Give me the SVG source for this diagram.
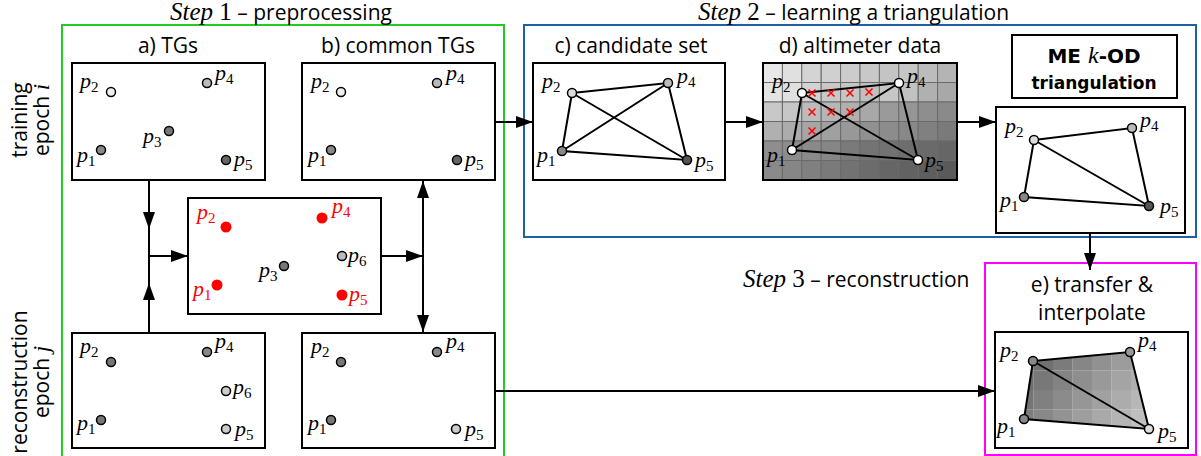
<svg xmlns="http://www.w3.org/2000/svg" width="1201" height="456" viewBox="0 0 1201 456">
<style>
.box{fill:#fff;stroke:#000;stroke-width:2}
.ln{stroke:#000;stroke-width:2;fill:none}
.pt{stroke:#000;stroke-width:1.5}
.rp{fill:#ff0000;stroke:none}
.lbl{font-family:"Liberation Serif",serif;font-style:italic;font-size:22px;fill:#000}
.red{fill:#ff0000}
.sub{font-style:normal;font-size:15px}
.hd{font-family:"Open Sans",sans-serif;font-size:21px;fill:#000}
.mid{text-anchor:middle}
.it{font-family:"Liberation Serif",serif;font-style:italic;font-size:25px}
.rm{font-family:"Liberation Serif",serif;font-style:normal;font-size:25px}
.bd{font-family:"DejaVu Sans",sans-serif;font-weight:bold;font-size:17px;fill:#000;text-anchor:middle}
.bd1{font-size:20px}
.mk{font-family:"Liberation Serif",serif;font-style:italic;font-weight:normal;font-size:24px}
.gc{stroke:#6a6a6a;stroke-width:1}
.xm{stroke:#ff0000;stroke-width:1.5}
</style>
<defs>
<marker id="ah" markerUnits="userSpaceOnUse" markerWidth="18" markerHeight="12" refX="17" refY="6" orient="auto">
<path d="M0,0 L17,6 L0,12 Z" fill="#000"/>
</marker>
<clipPath id="eclip"><polygon points="1033,361 1130,352 1149,429 1024,419"/></clipPath>
</defs>

<!-- step frames -->
<g id="frames">
<rect x="62" y="25" width="442" height="440" fill="none" stroke="#22cc22" stroke-width="2"/>
<rect x="524" y="25" width="672" height="212" fill="none" stroke="#1f5fa8" stroke-width="2"/>
<rect x="985" y="263" width="211" height="192" fill="none" stroke="#ff00ff" stroke-width="2"/>
</g>

<g id="titles">
<text x="170" y="20" class="hd"><tspan class="it">Step</tspan><tspan class="rm"> 1</tspan> – preprocessing</text>
<text x="698" y="20" class="hd"><tspan class="it">Step</tspan><tspan class="rm"> 2</tspan> – learning a triangulation</text>
<text x="743" y="287" class="hd"><tspan class="it">Step</tspan><tspan class="rm"> 3</tspan> – reconstruction</text>
<text transform="translate(27,120) rotate(-90)" class="hd mid">training</text>
<text transform="translate(49,120) rotate(-90)" class="hd mid">epoch <tspan font-family="Liberation Serif, serif" font-style="italic" font-size="23">i</tspan></text>
<text transform="translate(27,382) rotate(-90)" class="hd mid">reconstruction</text>
<text transform="translate(49,382) rotate(-90)" class="hd mid">epoch <tspan font-family="Liberation Serif, serif" font-style="italic" font-size="23">j</tspan></text>
<text x="168" y="53" class="hd mid">a) TGs</text>
<text x="398" y="53" class="hd mid">b) common TGs</text>
<text x="631" y="53" class="hd mid">c) candidate set</text>
<text x="860" y="53" class="hd mid">d) altimeter data</text>
<text x="1092" y="292" class="hd mid">e) transfer &amp;</text>
<text x="1092" y="320" class="hd mid">interpolate</text>
</g>

<!-- connectors -->
<g id="connectors">
<path class="ln" d="M149,180 V229" marker-end="url(#ah)"/>
<path class="ln" d="M149,229 V256"/>
<path class="ln" d="M149,333 V283" marker-end="url(#ah)"/>
<path class="ln" d="M149,283 V256"/>
<path class="ln" d="M149,256 H188" marker-end="url(#ah)"/>
<path class="ln" d="M381,256 H423" marker-end="url(#ah)"/>
<path class="ln" d="M423,256 V181" marker-end="url(#ah)"/>
<path class="ln" d="M423,256 V332" marker-end="url(#ah)"/>
<path class="ln" d="M495,122 H533" marker-end="url(#ah)"/>
<path class="ln" d="M725,122 H763" marker-end="url(#ah)"/>
<path class="ln" d="M957,122 H996" marker-end="url(#ah)"/>
<path class="ln" d="M1090,233 V270" marker-end="url(#ah)"/>
<path class="ln" d="M495,391 H995" marker-end="url(#ah)"/>
</g>

<!-- a) training TGs -->
<g id="node-a-train">
<rect class="box" x="72" y="63" width="193" height="117"/>
<circle class="pt" cx="111" cy="92" r="4.5" fill="#eeeeee"/>
<circle class="pt" cx="207" cy="83" r="4.5" fill="#bbbbbb"/>
<circle class="pt" cx="169" cy="131" r="4.5" fill="#777777"/>
<circle class="pt" cx="101" cy="150" r="4.5" fill="#888888"/>
<circle class="pt" cx="226" cy="160" r="4.5" fill="#666666"/>
<text class="lbl" x="80" y="88">p<tspan class="sub" dy="4">2</tspan></text>
<text class="lbl" x="215" y="80">p<tspan class="sub" dy="4">4</tspan></text>
<text class="lbl" x="143" y="143">p<tspan class="sub" dy="4">3</tspan></text>
<text class="lbl" x="77" y="162">p<tspan class="sub" dy="4">1</tspan></text>
<text class="lbl" x="234" y="166">p<tspan class="sub" dy="4">5</tspan></text>
</g>

<!-- b) common training TGs -->
<g id="node-b-train">
<rect class="box" x="302" y="63" width="193" height="117"/>
<circle class="pt" cx="341" cy="92" r="4.5" fill="#eeeeee"/>
<circle class="pt" cx="437" cy="83" r="4.5" fill="#bbbbbb"/>
<circle class="pt" cx="331" cy="150" r="4.5" fill="#888888"/>
<circle class="pt" cx="457" cy="160" r="4.5" fill="#666666"/>
<text class="lbl" x="311" y="88">p<tspan class="sub" dy="4">2</tspan></text>
<text class="lbl" x="446" y="80">p<tspan class="sub" dy="4">4</tspan></text>
<text class="lbl" x="308" y="162">p<tspan class="sub" dy="4">1</tspan></text>
<text class="lbl" x="465" y="166">p<tspan class="sub" dy="4">5</tspan></text>
</g>

<!-- middle matching -->
<g id="node-match">
<rect class="box" x="188" y="198" width="193" height="116"/>
<circle class="rp" cx="226" cy="227" r="5.5"/>
<circle class="rp" cx="322" cy="218" r="5.5"/>
<circle class="rp" cx="217" cy="285" r="5.5"/>
<circle class="rp" cx="342" cy="295" r="5.5"/>
<circle class="pt" cx="342" cy="256" r="4.5" fill="#bbbbbb"/>
<circle class="pt" cx="284" cy="266" r="4.5" fill="#777777"/>
<text class="lbl red" x="197" y="219">p<tspan class="sub" dy="4">2</tspan></text>
<text class="lbl red" x="332" y="213">p<tspan class="sub" dy="4">4</tspan></text>
<text class="lbl" x="348" y="262">p<tspan class="sub" dy="4">6</tspan></text>
<text class="lbl" x="259" y="277">p<tspan class="sub" dy="4">3</tspan></text>
<text class="lbl red" x="193" y="296">p<tspan class="sub" dy="4">1</tspan></text>
<text class="lbl red" x="349" y="301">p<tspan class="sub" dy="4">5</tspan></text>
</g>

<!-- a) reconstruction TGs -->
<g id="node-a-recon">
<rect class="box" x="72" y="333" width="193" height="115"/>
<circle class="pt" cx="111" cy="362" r="4.5" fill="#777777"/>
<circle class="pt" cx="207" cy="352" r="4.5" fill="#888888"/>
<circle class="pt" cx="226" cy="391" r="4.5" fill="#cccccc"/>
<circle class="pt" cx="101" cy="420" r="4.5" fill="#777777"/>
<circle class="pt" cx="226" cy="429" r="4.5" fill="#cccccc"/>
<text class="lbl" x="80" y="353">p<tspan class="sub" dy="4">2</tspan></text>
<text class="lbl" x="215" y="348">p<tspan class="sub" dy="4">4</tspan></text>
<text class="lbl" x="233" y="394">p<tspan class="sub" dy="4">6</tspan></text>
<text class="lbl" x="77" y="430">p<tspan class="sub" dy="4">1</tspan></text>
<text class="lbl" x="235" y="436">p<tspan class="sub" dy="4">5</tspan></text>
</g>

<!-- b) common reconstruction TGs -->
<g id="node-b-recon">
<rect class="box" x="302" y="333" width="193" height="115"/>
<circle class="pt" cx="341" cy="362" r="4.5" fill="#777777"/>
<circle class="pt" cx="437" cy="352" r="4.5" fill="#888888"/>
<circle class="pt" cx="331" cy="420" r="4.5" fill="#777777"/>
<circle class="pt" cx="456" cy="429" r="4.5" fill="#cccccc"/>
<text class="lbl" x="311" y="353">p<tspan class="sub" dy="4">2</tspan></text>
<text class="lbl" x="446" y="348">p<tspan class="sub" dy="4">4</tspan></text>
<text class="lbl" x="308" y="430">p<tspan class="sub" dy="4">1</tspan></text>
<text class="lbl" x="465" y="436">p<tspan class="sub" dy="4">5</tspan></text>
</g>

<!-- c) candidate set -->
<g id="node-c">
<rect class="box" x="533" y="63" width="192" height="117"/>
<path class="ln" d="M572,93 L668,83 L687,160 L562,151 Z M572,93 L687,160 M562,151 L668,83"/>
<circle class="pt" cx="572" cy="93" r="4.5" fill="#dddddd"/>
<circle class="pt" cx="668" cy="83" r="4.5" fill="#bbbbbb"/>
<circle class="pt" cx="562" cy="151" r="4.5" fill="#888888"/>
<circle class="pt" cx="687" cy="160" r="4.5" fill="#555555"/>
<text class="lbl" x="542" y="88">p<tspan class="sub" dy="4">2</tspan></text>
<text class="lbl" x="677" y="83">p<tspan class="sub" dy="4">4</tspan></text>
<text class="lbl" x="537" y="162">p<tspan class="sub" dy="4">1</tspan></text>
<text class="lbl" x="695" y="167">p<tspan class="sub" dy="4">5</tspan></text>
</g>

<!-- d) altimeter data -->
<g id="node-d">
<g class="gc">
<rect x="763" y="63" width="19.4" height="19.5" fill="#e8e8e8"/><rect x="782.4" y="63" width="19.4" height="19.5" fill="#e0e0e0"/><rect x="801.8" y="63" width="19.4" height="19.5" fill="#d4d4d4"/><rect x="821.2" y="63" width="19.4" height="19.5" fill="#d0d0d0"/><rect x="840.6" y="63" width="19.4" height="19.5" fill="#cccccc"/><rect x="860" y="63" width="19.4" height="19.5" fill="#c8c8c8"/><rect x="879.4" y="63" width="19.4" height="19.5" fill="#c4c4c4"/><rect x="898.8" y="63" width="19.4" height="19.5" fill="#c6c6c6"/><rect x="918.2" y="63" width="19.4" height="19.5" fill="#bcbcbc"/><rect x="937.6" y="63" width="19.4" height="19.5" fill="#b4b4b4"/>
<rect x="763" y="82.5" width="19.4" height="19.5" fill="#e4e4e4"/><rect x="782.4" y="82.5" width="19.4" height="19.5" fill="#e0e0e0"/><rect x="801.8" y="82.5" width="19.4" height="19.5" fill="#d2d2d2"/><rect x="821.2" y="82.5" width="19.4" height="19.5" fill="#c8c8c8"/><rect x="840.6" y="82.5" width="19.4" height="19.5" fill="#c6c6c6"/><rect x="860" y="82.5" width="19.4" height="19.5" fill="#c0c0c0"/><rect x="879.4" y="82.5" width="19.4" height="19.5" fill="#c6c6c6"/><rect x="898.8" y="82.5" width="19.4" height="19.5" fill="#c2c2c2"/><rect x="918.2" y="82.5" width="19.4" height="19.5" fill="#b0b0b0"/><rect x="937.6" y="82.5" width="19.4" height="19.5" fill="#a8a8a8"/>
<rect x="763" y="102" width="19.4" height="19.5" fill="#c8c8c8"/><rect x="782.4" y="102" width="19.4" height="19.5" fill="#c6c6c6"/><rect x="801.8" y="102" width="19.4" height="19.5" fill="#bcbcbc"/><rect x="821.2" y="102" width="19.4" height="19.5" fill="#b6b6b6"/><rect x="840.6" y="102" width="19.4" height="19.5" fill="#b0b0b0"/><rect x="860" y="102" width="19.4" height="19.5" fill="#a8a8a8"/><rect x="879.4" y="102" width="19.4" height="19.5" fill="#9a9a9a"/><rect x="898.8" y="102" width="19.4" height="19.5" fill="#969696"/><rect x="918.2" y="102" width="19.4" height="19.5" fill="#8e8e8e"/><rect x="937.6" y="102" width="19.4" height="19.5" fill="#8a8a8a"/>
<rect x="763" y="121.5" width="19.4" height="19.5" fill="#b0b0b0"/><rect x="782.4" y="121.5" width="19.4" height="19.5" fill="#acacac"/><rect x="801.8" y="121.5" width="19.4" height="19.5" fill="#a6a6a6"/><rect x="821.2" y="121.5" width="19.4" height="19.5" fill="#a0a0a0"/><rect x="840.6" y="121.5" width="19.4" height="19.5" fill="#989898"/><rect x="860" y="121.5" width="19.4" height="19.5" fill="#909090"/><rect x="879.4" y="121.5" width="19.4" height="19.5" fill="#8c8c8c"/><rect x="898.8" y="121.5" width="19.4" height="19.5" fill="#888888"/><rect x="918.2" y="121.5" width="19.4" height="19.5" fill="#808080"/><rect x="937.6" y="121.5" width="19.4" height="19.5" fill="#7a7a7a"/>
<rect x="763" y="141" width="19.4" height="19.5" fill="#8e8e8e"/><rect x="782.4" y="141" width="19.4" height="19.5" fill="#8c8c8c"/><rect x="801.8" y="141" width="19.4" height="19.5" fill="#8a8a8a"/><rect x="821.2" y="141" width="19.4" height="19.5" fill="#868686"/><rect x="840.6" y="141" width="19.4" height="19.5" fill="#7a7a7a"/><rect x="860" y="141" width="19.4" height="19.5" fill="#747474"/><rect x="879.4" y="141" width="19.4" height="19.5" fill="#727272"/><rect x="898.8" y="141" width="19.4" height="19.5" fill="#6e6e6e"/><rect x="918.2" y="141" width="19.4" height="19.5" fill="#6a6a6a"/><rect x="937.6" y="141" width="19.4" height="19.5" fill="#666666"/>
<rect x="763" y="160.5" width="19.4" height="19.5" fill="#8a8a8a"/><rect x="782.4" y="160.5" width="19.4" height="19.5" fill="#868686"/><rect x="801.8" y="160.5" width="19.4" height="19.5" fill="#808080"/><rect x="821.2" y="160.5" width="19.4" height="19.5" fill="#7a7a7a"/><rect x="840.6" y="160.5" width="19.4" height="19.5" fill="#727272"/><rect x="860" y="160.5" width="19.4" height="19.5" fill="#6c6c6c"/><rect x="879.4" y="160.5" width="19.4" height="19.5" fill="#666666"/><rect x="898.8" y="160.5" width="19.4" height="19.5" fill="#626262"/><rect x="918.2" y="160.5" width="19.4" height="19.5" fill="#5e5e5e"/><rect x="937.6" y="160.5" width="19.4" height="19.5" fill="#5a5a5a"/>
</g>
<rect x="763" y="63" width="194" height="117" fill="none" stroke="#000" stroke-width="2"/>
<path class="ln" d="M802,93 L899,83 L918,160 L792,150 Z M802,93 L918,160 M792,150 L899,83"/>
<g class="xm">
<path d="M808.5,89.5 l7,7 m0,-7 l-7,7"/><path d="M827.5,89.5 l7,7 m0,-7 l-7,7"/><path d="M846.5,89.5 l7,7 m0,-7 l-7,7"/><path d="M865.5,88.5 l7,7 m0,-7 l-7,7"/>
<path d="M808.5,108.5 l7,7 m0,-7 l-7,7"/><path d="M827.5,108.5 l7,7 m0,-7 l-7,7"/><path d="M846.5,108.5 l7,7 m0,-7 l-7,7"/>
<path d="M808.5,127.5 l7,7 m0,-7 l-7,7"/>
</g>
<circle class="pt" cx="802" cy="93" r="4.5" fill="#ffffff"/>
<circle class="pt" cx="899" cy="83" r="4.5" fill="#ffffff"/>
<circle class="pt" cx="792" cy="150" r="4.5" fill="#ffffff"/>
<circle class="pt" cx="918" cy="160" r="4.5" fill="#ffffff"/>
<text class="lbl" x="772" y="88">p<tspan class="sub" dy="4">2</tspan></text>
<text class="lbl" x="907" y="83">p<tspan class="sub" dy="4">4</tspan></text>
<text class="lbl" x="767" y="162">p<tspan class="sub" dy="4">1</tspan></text>
<text class="lbl" x="925" y="167">p<tspan class="sub" dy="4">5</tspan></text>
</g>

<!-- ME k-OD label -->
<g id="node-mekod">
<rect class="box" x="1012" y="35" width="165" height="63"/>
<text class="bd bd1" x="1094" y="63">ME <tspan class="mk">k</tspan>-OD</text>
<text class="bd" x="1094" y="89">triangulation</text>
</g>

<!-- triangulation result -->
<g id="node-tri">
<rect class="box" x="996" y="107" width="189" height="126"/>
<path class="ln" d="M1034,140 L1132,128 L1149,206 L1024,197 Z M1034,140 L1149,206"/>
<circle class="pt" cx="1034" cy="140" r="4.5" fill="#dddddd"/>
<circle class="pt" cx="1132" cy="128" r="4.5" fill="#bbbbbb"/>
<circle class="pt" cx="1024" cy="197" r="4.5" fill="#888888"/>
<circle class="pt" cx="1149" cy="206" r="4.5" fill="#555555"/>
<text class="lbl" x="1005" y="133">p<tspan class="sub" dy="4">2</tspan></text>
<text class="lbl" x="1140" y="127">p<tspan class="sub" dy="4">4</tspan></text>
<text class="lbl" x="1000" y="207">p<tspan class="sub" dy="4">1</tspan></text>
<text class="lbl" x="1160" y="213">p<tspan class="sub" dy="4">5</tspan></text>
</g>

<!-- e) transfer & interpolate -->
<g id="node-e">
<rect class="box" x="995" y="332" width="193" height="116"/>
<g clip-path="url(#eclip)">
<rect x="1014" y="351" width="19.6" height="19.6" fill="#656565"/><rect x="1033.5" y="351" width="19.6" height="19.6" fill="#707070"/><rect x="1053" y="351" width="19.6" height="19.6" fill="#7b7b7b"/><rect x="1072.5" y="351" width="19.6" height="19.6" fill="#868686"/><rect x="1092" y="351" width="19.6" height="19.6" fill="#919191"/><rect x="1111.5" y="351" width="19.6" height="19.6" fill="#9c9c9c"/><rect x="1131" y="351" width="19.6" height="19.6" fill="#a7a7a7"/>
<rect x="1014" y="370.5" width="19.6" height="19.6" fill="#6d6d6d"/><rect x="1033.5" y="370.5" width="19.6" height="19.6" fill="#787878"/><rect x="1053" y="370.5" width="19.6" height="19.6" fill="#838383"/><rect x="1072.5" y="370.5" width="19.6" height="19.6" fill="#8e8e8e"/><rect x="1092" y="370.5" width="19.6" height="19.6" fill="#999999"/><rect x="1111.5" y="370.5" width="19.6" height="19.6" fill="#a4a4a4"/><rect x="1131" y="370.5" width="19.6" height="19.6" fill="#afafaf"/>
<rect x="1014" y="390" width="19.6" height="19.6" fill="#757575"/><rect x="1033.5" y="390" width="19.6" height="19.6" fill="#808080"/><rect x="1053" y="390" width="19.6" height="19.6" fill="#8b8b8b"/><rect x="1072.5" y="390" width="19.6" height="19.6" fill="#969696"/><rect x="1092" y="390" width="19.6" height="19.6" fill="#a1a1a1"/><rect x="1111.5" y="390" width="19.6" height="19.6" fill="#acacac"/><rect x="1131" y="390" width="19.6" height="19.6" fill="#b7b7b7"/>
<rect x="1014" y="409.5" width="19.6" height="19.6" fill="#7d7d7d"/><rect x="1033.5" y="409.5" width="19.6" height="19.6" fill="#888888"/><rect x="1053" y="409.5" width="19.6" height="19.6" fill="#939393"/><rect x="1072.5" y="409.5" width="19.6" height="19.6" fill="#9e9e9e"/><rect x="1092" y="409.5" width="19.6" height="19.6" fill="#a9a9a9"/><rect x="1111.5" y="409.5" width="19.6" height="19.6" fill="#b4b4b4"/><rect x="1131" y="409.5" width="19.6" height="19.6" fill="#bfbfbf"/>
<rect x="1014" y="429" width="19.6" height="19.6" fill="#858585"/><rect x="1033.5" y="429" width="19.6" height="19.6" fill="#909090"/><rect x="1053" y="429" width="19.6" height="19.6" fill="#9b9b9b"/><rect x="1072.5" y="429" width="19.6" height="19.6" fill="#a6a6a6"/><rect x="1092" y="429" width="19.6" height="19.6" fill="#b1b1b1"/><rect x="1111.5" y="429" width="19.6" height="19.6" fill="#bcbcbc"/><rect x="1131" y="429" width="19.6" height="19.6" fill="#c7c7c7"/>
</g>
<path class="ln" d="M1033,361 L1130,352 L1149,429 L1024,419 Z M1033,361 L1149,429"/>
<circle class="pt" cx="1033" cy="361" r="4.5" fill="#888888"/>
<circle class="pt" cx="1130" cy="352" r="4.5" fill="#999999"/>
<circle class="pt" cx="1024" cy="419" r="4.5" fill="#888888"/>
<circle class="pt" cx="1149" cy="429" r="4.5" fill="#dddddd"/>
<text class="lbl" x="1000" y="357">p<tspan class="sub" dy="4">2</tspan></text>
<text class="lbl" x="1138" y="347">p<tspan class="sub" dy="4">4</tspan></text>
<text class="lbl" x="997" y="433">p<tspan class="sub" dy="4">1</tspan></text>
<text class="lbl" x="1158" y="438">p<tspan class="sub" dy="4">5</tspan></text>
</g>
</svg>
